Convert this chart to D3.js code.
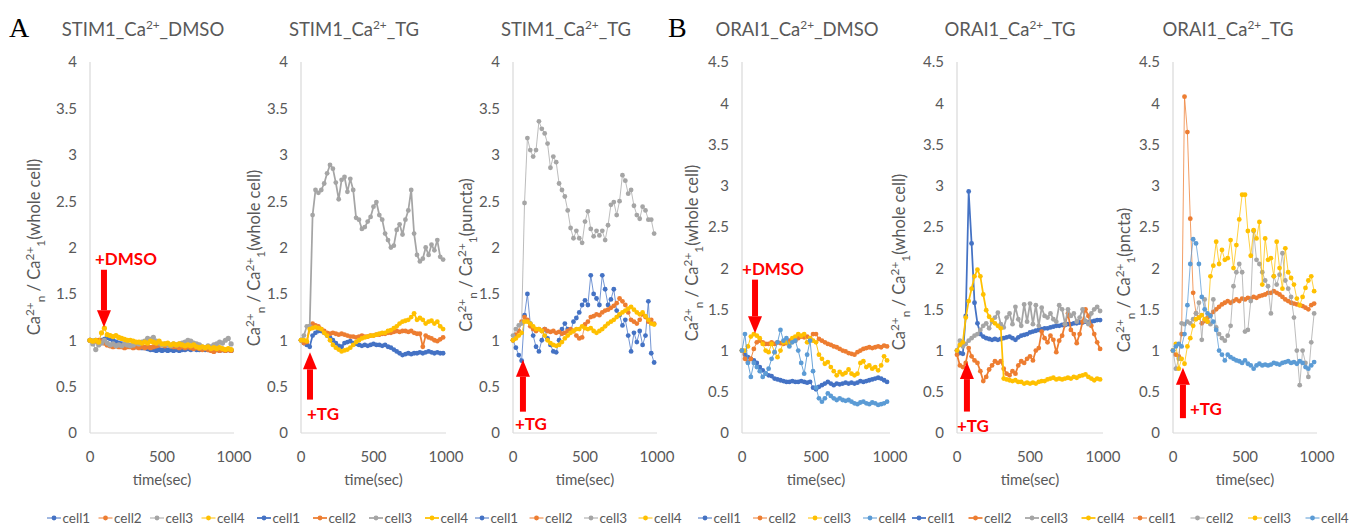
<!DOCTYPE html>
<html>
<head>
<meta charset="utf-8">
<script src="https://cdn.jsdelivr.net/npm/d3@7"></script>
<style>
  body { margin: 0; background: #fff; }
  svg { display: block; font-family: Lato, "Open Sans", sans-serif; }
  text { white-space: pre; }
</style>
</head>
<body>
<svg id="chart" width="1350" height="526"></svg>
<script>
// Sampling times (s)
const timeSec = [
  0, 20, 40, 60, 80, 100, 120, 140, 160, 180,
  200, 220, 240, 260, 280, 300, 320, 340, 360, 380,
  400, 420, 440, 460, 480, 500, 520, 540, 560, 580,
  600, 620, 640, 660, 680, 700, 720, 740, 760, 780,
  800, 820, 840, 860, 880, 900, 920, 940, 960, 980
];

// ---- STIM1, DMSO, whole cell ----
const stimDmsoCell1 = [
  1.0, 0.99, 1.0, 0.98, 1.0, 1.01, 1.03, 1.02, 1.0, 0.98,
  0.97, 0.96, 0.95, 0.95, 0.94, 0.94, 0.93, 0.93, 0.92, 0.92,
  0.91, 0.9, 0.9, 0.89, 0.9, 0.89, 0.9, 0.89, 0.9, 0.89,
  0.9, 0.89, 0.9, 0.9, 0.91, 0.9, 0.91, 0.9, 0.9, 0.91,
  0.9, 0.9, 0.9, 0.89, 0.9, 0.89, 0.9, 0.89, 0.9, 0.89
];
const stimDmsoCell2 = [
  1.0, 0.98, 0.99, 1.0, 0.99, 0.97, 0.95, 0.94, 0.93, 0.94,
  0.93, 0.93, 0.92, 0.93, 0.93, 0.92, 0.93, 0.92, 0.93, 0.92,
  0.93, 0.92, 0.93, 0.94, 0.95, 0.95, 0.94, 0.95, 0.94, 0.93,
  0.93, 0.92, 0.93, 0.92, 0.93, 0.92, 0.91, 0.92, 0.91, 0.9,
  0.91, 0.9, 0.89, 0.88, 0.9, 0.89, 0.9, 0.89, 0.9, 0.89
];
const stimDmsoCell3 = [
  1.0, 0.96, 0.9, 0.95, 0.97, 1.0, 0.97, 0.95, 0.96, 0.94,
  0.95, 0.94, 0.96, 0.95, 0.94, 0.95, 0.97, 0.96, 0.98, 0.99,
  1.02, 1.01, 1.03, 0.99, 0.97, 0.95, 0.96, 0.95, 0.94, 0.96,
  0.95, 0.96, 0.97, 0.98, 1.0, 0.99, 0.97, 0.96, 0.95, 0.93,
  0.92, 0.94, 0.93, 0.95, 0.96, 0.98, 0.97, 1.0, 1.02, 0.96
];
const stimDmsoCell4 = [
  1.0, 0.99, 1.0, 0.98, 1.08, 1.13, 1.06, 1.05, 1.04, 1.05,
  1.03, 1.02, 1.01, 1.0, 1.0, 0.99, 0.98, 0.98, 0.97, 0.98,
  0.97, 0.99, 0.98, 0.97, 0.99, 0.96, 0.96, 0.97, 0.95, 0.96,
  0.95, 0.96, 0.95, 0.94, 0.95, 0.94, 0.95, 0.93, 0.92, 0.93,
  0.92, 0.93, 0.91, 0.92, 0.91, 0.92, 0.91, 0.9, 0.91, 0.9
];

// ---- STIM1, TG, whole cell ----
const stimTgCell1 = [
  1.0, 0.97, 0.95, 0.93, 1.05, 1.08, 1.1, 1.1, 1.08, 1.05,
  1.03, 1.0, 0.97, 0.94, 0.93, 0.97, 0.98, 0.99, 0.97, 0.96,
  0.95, 0.94, 0.95, 0.94, 0.95, 0.96, 0.95, 0.95, 0.94, 0.95,
  0.93, 0.92, 0.9, 0.88, 0.86, 0.84, 0.85, 0.86, 0.85, 0.86,
  0.86, 0.87, 0.86, 0.87, 0.88, 0.87, 0.86, 0.87, 0.86, 0.86
];
const stimTgCell2 = [
  1.0, 0.97, 0.98, 1.15, 1.18, 1.16, 1.15, 1.12, 1.1, 1.08,
  1.07, 1.08, 1.07, 1.06, 1.07, 1.06, 1.05, 1.04, 1.04, 1.03,
  1.04, 1.05, 1.04, 1.04, 1.05, 1.05, 1.06, 1.06, 1.07, 1.07,
  1.08, 1.08, 1.09, 1.1, 1.09, 1.1, 1.1, 1.09, 1.1, 1.08,
  1.07, 1.07, 0.93, 1.05, 1.03, 1.02, 1.0, 0.99, 1.01, 1.03
];
const stimTgCell3 = [
  1.0, 1.05, 1.15, 1.15, 2.35, 2.62, 2.59, 2.62, 2.69, 2.8,
  2.89, 2.85, 2.7, 2.52, 2.73, 2.76, 2.6, 2.74, 2.62, 2.32,
  2.3, 2.2, 2.22, 2.28, 2.33, 2.44, 2.49, 2.35, 2.3, 2.15,
  2.08, 2.0, 2.02, 2.19, 2.25, 2.14, 2.3, 2.4, 2.62, 2.15,
  1.92, 1.85, 1.88, 2.0, 1.92, 2.03, 1.97, 2.08, 1.9, 1.87
];
const stimTgCell4 = [
  1.0, 1.0, 0.99, 1.12, 1.13, 1.14, 1.13, 1.12, 1.08, 1.05,
  1.0, 0.95, 0.92, 0.9, 0.88, 0.89, 0.9, 0.92, 0.95, 0.98,
  1.0, 1.02, 1.03, 1.04, 1.05, 1.05, 1.06, 1.07, 1.08, 1.08,
  1.1, 1.11, 1.13, 1.15, 1.18, 1.2, 1.21, 1.22, 1.25, 1.29,
  1.22, 1.24, 1.22, 1.18, 1.2, 1.21, 1.18, 1.2, 1.15, 1.12
];

// ---- STIM1, TG, puncta ----
const stimPunctaCell1 = [
  1.0, 0.92, 0.84, 0.78, 1.27, 1.5, 1.18, 1.05, 0.93, 0.88,
  1.0, 1.12, 1.02, 0.95, 0.88, 0.87, 1.0, 1.12, 1.18, 1.12,
  1.1, 1.2, 1.24, 1.3, 1.38, 1.43, 1.38, 1.7, 1.5, 1.45,
  1.38, 1.7, 1.55, 1.38, 1.44, 1.55, 1.32, 1.27, 1.16, 1.22,
  1.05, 0.88, 1.08, 0.98, 1.1, 0.95, 1.05, 1.42, 0.86, 0.76
];
const stimPunctaCell2 = [
  1.0, 1.06, 1.1, 1.2, 1.25, 1.22, 1.15, 1.12, 1.1, 1.12,
  1.1, 1.12, 1.1, 1.09, 1.1, 1.08, 1.09, 1.07, 1.08, 1.1,
  1.12, 1.1, 1.05, 1.02, 1.03, 1.17, 1.2, 1.25, 1.26, 1.28,
  1.27, 1.3, 1.32, 1.33, 1.35, 1.37, 1.4, 1.45, 1.42, 1.38,
  1.3, 1.22, 1.2, 1.18, 1.22, 1.28, 1.25, 1.2, 1.22, 1.18
];
const stimPunctaCell3 = [
  1.05, 1.12, 1.16, 1.18, 2.48, 3.18, 3.05, 2.98, 3.05, 3.36,
  3.28, 3.23, 3.12, 2.86, 2.98, 2.92, 2.69, 2.62, 2.55, 2.4,
  2.21, 2.1, 2.18, 2.1, 2.05, 2.28, 2.39, 2.2, 2.12, 2.18,
  2.13, 2.18, 2.08, 2.24, 2.46, 2.49, 2.35, 2.5, 2.78, 2.72,
  2.58, 2.62, 2.45, 2.35, 2.31, 2.44, 2.4, 2.3, 2.3, 2.15
];
const stimPunctaCell4 = [
  1.0, 1.02, 1.05, 1.08, 1.2, 1.2, 1.18, 1.15, 1.12, 1.12,
  1.1, 1.05, 1.0, 0.97, 0.95, 0.94, 0.95, 0.98, 1.02, 1.05,
  1.08, 1.1, 1.12, 1.12, 1.15, 1.13, 1.12, 1.13, 1.1, 1.08,
  1.1, 1.12, 1.15, 1.18, 1.2, 1.22, 1.25, 1.28, 1.3, 1.32,
  1.34, 1.36, 1.33, 1.3, 1.28, 1.3, 1.26, 1.22, 1.18, 1.17
];

// ---- ORAI1, DMSO, whole cell ----
const oraiDmsoCell1 = [
  1.0, 0.95, 0.92, 0.9, 0.88, 0.85, 0.8, 0.76, 0.72, 0.7,
  0.69, 0.66, 0.65, 0.64, 0.63, 0.62, 0.62, 0.63, 0.62, 0.62,
  0.63, 0.62, 0.61, 0.62, 0.55, 0.53, 0.56, 0.58, 0.6, 0.62,
  0.6, 0.58, 0.6, 0.59, 0.6, 0.61, 0.6, 0.61, 0.6, 0.61,
  0.63, 0.62, 0.63, 0.64, 0.65, 0.66, 0.67, 0.66, 0.64, 0.62
];
const oraiDmsoCell2 = [
  1.0, 0.9, 0.86, 0.9, 1.02, 1.1, 1.12, 1.1, 1.08, 1.08,
  1.1, 1.08, 1.1, 1.09, 1.08, 1.09, 1.12, 1.13, 1.12, 1.15,
  1.17, 1.16, 1.17, 1.15, 1.2, 1.2, 1.14, 1.12, 1.1, 1.08,
  1.07, 1.05, 1.04, 1.02, 1.0, 0.99, 0.97, 0.96, 0.95, 0.98,
  1.0, 1.02, 1.03, 1.04, 1.03, 1.04, 1.05, 1.04, 1.06, 1.05
];
const oraiDmsoCell3 = [
  1.0, 1.0, 1.05, 1.17, 1.2, 1.18, 1.15, 1.08, 1.0, 0.98,
  1.08, 0.98, 0.92, 1.0, 1.1, 1.1, 1.08, 1.15, 1.17, 1.2,
  1.18, 1.2, 1.1, 1.15, 1.12, 1.1, 0.95, 0.9, 0.84, 0.86,
  0.8, 0.75, 0.7, 0.74, 0.71, 0.73, 0.77, 0.72, 0.7, 0.72,
  0.85, 0.87, 0.8, 0.82, 0.78, 0.8, 0.76, 0.82, 0.93, 0.88
];
const oraiDmsoCell4 = [
  1.0, 1.2, 0.85, 0.68, 0.85, 0.8, 0.75, 0.68, 0.72, 0.78,
  0.9, 0.98, 1.1, 1.25, 1.12, 1.15, 1.05, 1.1, 1.12, 1.0,
  0.85, 0.72, 0.95, 1.12, 0.75, 0.55, 0.42, 0.38, 0.42, 0.48,
  0.45, 0.42, 0.4, 0.42, 0.4, 0.39, 0.4, 0.38, 0.36, 0.35,
  0.37, 0.38, 0.36, 0.35, 0.37, 0.36, 0.34, 0.35, 0.36, 0.38
];

// ---- ORAI1, TG, whole cell ----
const oraiTgCell1 = [
  1.0, 0.97, 0.96, 1.42, 2.93, 2.3, 1.58, 1.33, 1.2, 1.17,
  1.15, 1.14, 1.13, 1.14, 1.13, 1.14, 1.15, 1.16, 1.17, 1.15,
  1.13, 1.16, 1.18, 1.19, 1.2, 1.22, 1.23, 1.24, 1.25, 1.26,
  1.27, 1.27, 1.28, 1.29, 1.3, 1.3, 1.31, 1.31, 1.32, 1.32,
  1.33, 1.33, 1.34, 1.34, 1.35, 1.34, 1.35, 1.36, 1.37, 1.37
];
const oraiTgCell2 = [
  0.95, 0.82, 0.8, 0.85, 1.03, 0.93, 0.88, 0.85, 0.75, 0.63,
  0.68, 0.77, 0.82, 0.87, 0.85, 0.87, 0.78, 0.72, 0.7, 0.75,
  0.72, 0.82, 0.87, 0.85, 0.9, 0.93, 0.88, 1.0, 1.03, 1.23,
  1.15, 1.1, 1.18, 1.13, 0.98, 1.12, 1.18, 1.32, 1.45, 1.25,
  1.2, 1.09, 1.2, 1.35, 1.5, 1.42, 1.3, 1.2, 1.1, 1.02
];
const oraiTgCell3 = [
  1.0, 1.12, 1.05, 1.08, 1.12, 1.15, 1.18, 1.2, 1.25, 1.3,
  1.33, 1.27, 1.35, 1.4, 1.46, 1.32, 1.28, 1.4, 1.45, 1.32,
  1.53, 1.38, 1.3, 1.56, 1.35, 1.57, 1.32, 1.55, 1.3, 1.52,
  1.42, 1.4, 1.45, 1.38, 1.35, 1.55, 1.5, 1.32, 1.5, 1.42,
  1.45, 1.35, 1.4, 1.5, 1.36, 1.32, 1.45, 1.5, 1.53, 1.48
];
const oraiTgCell4 = [
  1.0, 1.07, 1.1, 1.4, 1.6, 1.75, 1.9, 1.98, 1.9, 1.68,
  1.49, 1.41, 1.37, 1.33, 1.3, 1.27, 0.66, 0.65, 0.64, 0.63,
  0.64, 0.62, 0.62, 0.6, 0.61, 0.6, 0.61, 0.6, 0.62, 0.63,
  0.63, 0.65, 0.66, 0.67, 0.65, 0.66, 0.65, 0.66, 0.67, 0.66,
  0.68, 0.67, 0.69, 0.7, 0.71, 0.68, 0.66, 0.64, 0.66, 0.65
];

// ---- ORAI1, TG, puncta ----
const oraiPunctaCell1 = [
  1.0, 0.95, 0.93, 1.2, 4.08, 3.65, 2.6, 1.7, 1.45, 1.4,
  1.33, 1.36, 1.4, 1.43, 1.47, 1.5, 1.53, 1.56, 1.58, 1.6,
  1.58, 1.6, 1.62, 1.6, 1.63, 1.62, 1.64, 1.63, 1.65, 1.64,
  1.66, 1.67, 1.68, 1.7, 1.7, 1.72, 1.7, 1.68, 1.65, 1.62,
  1.6, 1.58, 1.57, 1.56, 1.55, 1.54, 1.52, 1.5, 1.55, 1.57
];
const oraiPunctaCell2 = [
  1.0, 0.78, 0.9, 1.33, 1.32, 1.35, 1.33, 1.38, 1.45, 1.58,
  1.13, 1.62, 1.35, 1.32, 1.62, 1.28, 1.2, 1.15, 1.12, 1.18,
  1.3, 1.78, 1.95, 2.05, 1.95, 1.23, 1.25, 1.6, 2.45, 2.1,
  2.05, 1.95, 1.85, 1.78, 1.45, 1.9, 1.8, 1.92, 2.18, 1.85,
  1.75, 1.65, 1.4, 1.0, 0.58, 1.0, 0.85, 0.68, 1.1, 1.45
];
const oraiPunctaCell3 = [
  1.0, 1.08, 0.78, 0.9, 0.84, 1.05, 1.15, 1.3, 1.38, 1.4,
  1.43, 1.38, 1.35, 1.9, 2.03, 2.32, 2.05, 2.22, 2.1, 2.12,
  2.34, 2.0, 2.28, 2.59, 2.89, 2.89, 2.45, 2.15, 2.46, 2.36,
  2.56, 1.8, 2.36, 2.1, 2.12, 1.9, 2.32, 2.0, 1.75, 2.24,
  1.95, 1.88, 1.8, 1.63, 1.55, 1.65, 1.76, 1.85, 1.9, 1.72
];
const oraiPunctaCell4 = [
  1.0, 1.05, 1.08, 1.05, 1.2, 1.55, 2.05, 2.35, 2.3, 2.05,
  1.65, 1.5, 1.45, 1.42, 1.35, 1.25, 1.0, 0.95, 0.88, 0.95,
  0.92, 0.9, 0.88, 0.87, 0.85, 0.88, 0.84, 0.82, 0.78, 0.82,
  0.84, 0.82, 0.83, 0.82, 0.83, 0.85, 0.84, 0.83, 0.85, 0.86,
  0.87, 0.85, 0.86, 0.84, 0.87, 0.85, 0.8, 0.78, 0.82, 0.86
];

const cellNames = ["cell1", "cell2", "cell3", "cell4"];
const stimTicks = [0, 0.5, 1, 1.5, 2, 2.5, 3, 3.5, 4];
const oraiTicks = [0, 0.5, 1, 1.5, 2, 2.5, 3, 3.5, 4, 4.5];
const timeTicks = [0, 500, 1000];

const COL = { blue: "#4472C4", orange: "#ED7D31", gray: "#A5A5A5", yellow: "#FFC000", sky: "#5B9BD5" };
const RED = "#FF0000";
const TEXT = "#595959";
const AXIS = "#D9D9D9";

const panels = [
  { gene: "STIM1", drug: "DMSO", region: "whole cell", yMax: 4, ticks: stimTicks,
    series: [stimDmsoCell1, stimDmsoCell2, stimDmsoCell3, stimDmsoCell4],
    colors: [COL.blue, COL.orange, COL.gray, COL.yellow],
    x0: 90, x1: 234, titleX: 143, ylabX: 40, ylabY: 247, legX: 47, legStep: 51.5, lw: 1, r: 2.6,
    arrow: { t: 97, from: 1.76, to: 1.14, label: "+DMSO", dx: -9, ly: 265 } },
  { gene: "STIM1", drug: "TG", region: "whole cell", yMax: 4, ticks: stimTicks,
    series: [stimTgCell1, stimTgCell2, stimTgCell3, stimTgCell4],
    colors: [COL.blue, COL.orange, COL.gray, COL.yellow],
    x0: 301, x1: 446, titleX: 354, ylabX: 260, ylabY: 258, legX: 257, legStep: 56, lw: 1.75, r: 2.4,
    arrow: { t: 62, from: 0.36, to: 0.87, label: "+TG", dx: -3, ly: 420 } },
  { gene: "STIM1", drug: "TG", region: "puncta", yMax: 4, ticks: stimTicks,
    series: [stimPunctaCell1, stimPunctaCell2, stimPunctaCell3, stimPunctaCell4],
    colors: [COL.blue, COL.orange, COL.gray, COL.yellow],
    x0: 513, x1: 657, titleX: 566, ylabX: 472, ylabY: 255, legX: 475, legStep: 54.5, lw: 0.75, r: 2.4,
    arrow: { t: 69, from: 0.23, to: 0.79, label: "+TG", dx: -8, ly: 430 } },
  { gene: "ORAI1", drug: "DMSO", region: "whole cell", yMax: 4.5, ticks: oraiTicks,
    series: [oraiDmsoCell1, oraiDmsoCell2, oraiDmsoCell3, oraiDmsoCell4],
    colors: [COL.blue, COL.orange, COL.yellow, COL.sky],
    x0: 742, x1: 890, titleX: 797, ylabX: 698, ylabY: 253, legX: 698, legStep: 55, lw: 0.9, r: 2.4,
    arrow: { t: 88, from: 1.86, to: 1.21, label: "+DMSO", dx: -13, ly: 275 } },
  { gene: "ORAI1", drug: "TG", region: "whole cell", yMax: 4.5, ticks: oraiTicks,
    series: [oraiTgCell1, oraiTgCell2, oraiTgCell3, oraiTgCell4],
    colors: [COL.blue, COL.orange, COL.gray, COL.yellow],
    x0: 957, x1: 1103, titleX: 1010, ylabX: 905, ylabY: 262, legX: 912, legStep: 56.5, lw: 1.75, r: 2.4,
    arrow: { t: 68, from: 0.26, to: 0.86, label: "+TG", dx: -10, ly: 432 } },
  { gene: "ORAI1", drug: "TG", region: "pncta", yMax: 4.5, ticks: oraiTicks,
    series: [oraiPunctaCell1, oraiPunctaCell2, oraiPunctaCell3, oraiPunctaCell4],
    colors: [COL.orange, COL.gray, COL.yellow, COL.sky],
    x0: 1173, x1: 1317, titleX: 1228, ylabX: 1130, ylabY: 280, legX: 1133, legStep: 57.5, lw: 0.75, r: 2.4,
    arrow: { t: 69, from: 0.18, to: 0.79, label: "+TG", dx: 7, ly: 415 } }
];

const svg = d3.select("#chart");
const Y_TOP = 62, Y_BOT = 433;

// Writes text made of normal / superscript / subscript runs.
function richText(sel, parts, size, small) {
  let shift = 0;
  parts.forEach(p => {
    const target = p.s === "sup" ? -0.38 * size : p.s === "sub" ? 0.3 * size : 0;
    sel.append("tspan")
      .attr("dy", target - shift)
      .attr("font-size", p.s ? size * small : size)
      .text(p.t);
    shift = target;
  });
}

// Panel letters
svg.append("text").attr("x", 9).attr("y", 37)
  .attr("font-family", "'Liberation Serif', 'DejaVu Serif', serif").attr("font-size", 28).text("A");
svg.append("text").attr("x", 668).attr("y", 37)
  .attr("font-family", "'Liberation Serif', 'DejaVu Serif', serif").attr("font-size", 28).text("B");

panels.forEach(p => {
  const g = svg.append("g");
  const x = d3.scaleLinear().domain([0, 1000]).range([p.x0, p.x1]);
  const y = d3.scaleLinear().domain([0, p.yMax]).range([Y_BOT, Y_TOP]);

  // Axis lines
  g.append("line").attr("x1", p.x0).attr("x2", p.x0).attr("y1", Y_TOP).attr("y2", Y_BOT)
    .attr("stroke", AXIS).attr("stroke-width", 1.2);
  g.append("line").attr("x1", p.x0).attr("x2", p.x1).attr("y1", Y_BOT).attr("y2", Y_BOT)
    .attr("stroke", AXIS).attr("stroke-width", 1.2);

  // Y tick labels
  g.selectAll(".yt").data(p.ticks).join("text")
    .attr("x", p.x0 - 13).attr("y", d => y(d)).attr("dy", "0.36em")
    .attr("text-anchor", "end").attr("font-size", 15).attr("fill", TEXT)
    .text(d => String(d));

  // X tick labels
  g.selectAll(".xt").data(timeTicks).join("text")
    .attr("x", d => x(d)).attr("y", 462)
    .attr("text-anchor", "middle").attr("font-size", 15).attr("fill", TEXT)
    .text(d => String(d));

  // X axis title
  g.append("text").attr("x", (p.x0 + p.x1) / 2).attr("y", 485)
    .attr("text-anchor", "middle").attr("font-size", 15).attr("fill", TEXT).text("time(sec)");

  // Y axis title
  const yl = g.append("text")
    .attr("transform", `translate(${p.ylabX},${p.ylabY}) rotate(-90)`)
    .attr("text-anchor", "middle").attr("fill", TEXT).attr("font-size", 16.5);
  richText(yl, [
    { t: "Ca" }, { t: "2+", s: "sup" }, { t: "n", s: "sub" }, { t: " / Ca" },
    { t: "2+", s: "sup" }, { t: "1", s: "sub" }, { t: "(" + p.region + ")" }
  ], 16.5, 0.72);

  // Chart title
  const tt = g.append("text").attr("x", p.titleX).attr("y", 36)
    .attr("text-anchor", "middle").attr("fill", TEXT).attr("font-size", 18.5);
  richText(tt, [{ t: p.gene + "_Ca" }, { t: "2+", s: "sup" }, { t: "_" + p.drug }], 18.5, 0.64);

  // Series: line then markers, cell1 drawn first
  const line = d3.line().x((d, i) => x(timeSec[i])).y(d => y(d));
  p.series.forEach((vals, k) => {
    g.append("path").datum(vals).attr("d", line)
      .attr("fill", "none").attr("stroke", p.colors[k]).attr("stroke-width", p.lw)
      .attr("stroke-linejoin", "round");
    g.selectAll(null).data(vals).join("circle")
      .attr("cx", (d, i) => x(timeSec[i])).attr("cy", d => y(d))
      .attr("r", p.r).attr("fill", p.colors[k]);
  });

  // Treatment arrow
  const a = p.arrow;
  const ax = x(a.t), yFrom = y(a.from), yTo = y(a.to);
  const dir = yTo > yFrom ? 1 : -1;
  const headLen = 17, headHalf = 7, shaftHalf = 3;
  const baseY = yTo - dir * headLen;
  g.append("rect")
    .attr("x", ax - shaftHalf).attr("width", shaftHalf * 2)
    .attr("y", Math.min(yFrom, baseY)).attr("height", Math.abs(baseY - yFrom))
    .attr("fill", RED);
  g.append("path")
    .attr("d", `M${ax - headHalf},${baseY} L${ax + headHalf},${baseY} L${ax},${yTo} Z`)
    .attr("fill", RED);
  g.append("text").attr("x", ax + a.dx).attr("y", a.ly)
    .attr("font-size", 17).attr("font-weight", "bold").attr("fill", RED).text(a.label);

  // Legend
  cellNames.forEach((name, k) => {
    const lx = p.legX + k * p.legStep, ly = 518;
    g.append("line").attr("x1", lx).attr("x2", lx + 14).attr("y1", ly).attr("y2", ly)
      .attr("stroke", p.colors[k]).attr("stroke-width", Math.max(p.lw, 1));
    g.append("circle").attr("cx", lx + 7).attr("cy", ly).attr("r", 2.4).attr("fill", p.colors[k]);
    g.append("text").attr("x", lx + 15.5).attr("y", ly + 5)
      .attr("font-size", 13.5).attr("fill", TEXT).text(name);
  });
});
</script>
</body>
</html>
